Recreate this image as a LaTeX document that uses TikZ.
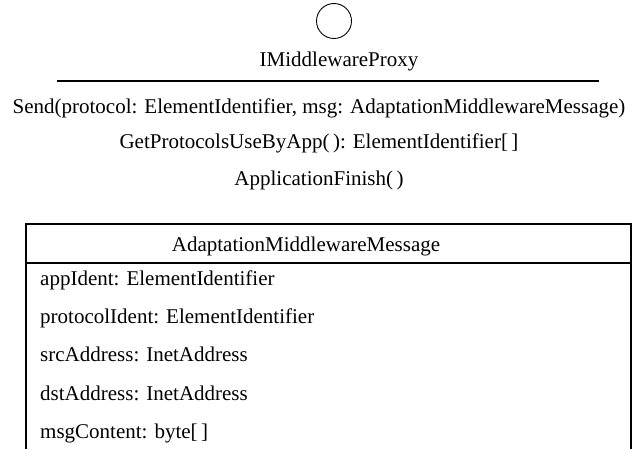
\documentclass[tikz,border=0pt]{standalone}
\usepackage{fontspec}
\setmainfont{Liberation Serif}
\begin{document}
\begin{tikzpicture}[x=1pt,y=-1pt,
  txt/.style={inner sep=0pt,font=\fontsize{21}{25}\selectfont},
  ctxt/.style={txt,anchor=base},
  ltxt/.style={txt,anchor=base west},
  umlline/.style={line width=1.1pt,black}]
\useasboundingbox (0,0) rectangle (636,449);

% interface lollipop and name
\node[circle,draw,line width=0.9pt,minimum size=35pt,inner sep=0pt] (lollipop) at (334,21) {};
\node[ctxt] (iname) at (339,66.5) {IMiddlewareProxy};
\coordinate (sepL) at (57,81);
\coordinate (sepR) at (599,81);
\draw[umlline] (sepL) -- (sepR);

% operations
\node[ctxt] (op1) at (319,114) {Send(protocol: ElementIdentifier, msg: AdaptationMiddlewareMessage)};
\node[ctxt] (op2) at (319,149) {GetProtocolsUseByApp(\,): ElementIdentifier[\,]};
\node[ctxt] (op3) at (319,185) {ApplicationFinish(\,)};

% message class box (open at the bottom)
\coordinate (boxBL) at (26,449);
\coordinate (boxTL) at (26,224);
\coordinate (boxTR) at (631,224);
\coordinate (boxBR) at (631,449);
\coordinate (hdrL) at (26,263);
\coordinate (hdrR) at (631,263);
\draw[umlline] (boxBL) -- (boxTL) -- (boxTR) -- (boxBR);
\draw[umlline] (hdrL) -- (hdrR);
\node[ctxt] (cname) at (306,251.5) {AdaptationMiddlewareMessage};

% attributes
\node[ltxt] (a1) at (40,285) {appIdent: ElementIdentifier};
\node[ltxt] (a2) at (40,323) {protocolIdent: ElementIdentifier};
\node[ltxt] (a3) at (40,361) {srcAddress: InetAddress};
\node[ltxt] (a4) at (40,400) {dstAddress: InetAddress};
\node[ltxt] (a5) at (40,438) {msgContent: byte[\,]};
\end{tikzpicture}
\end{document}
